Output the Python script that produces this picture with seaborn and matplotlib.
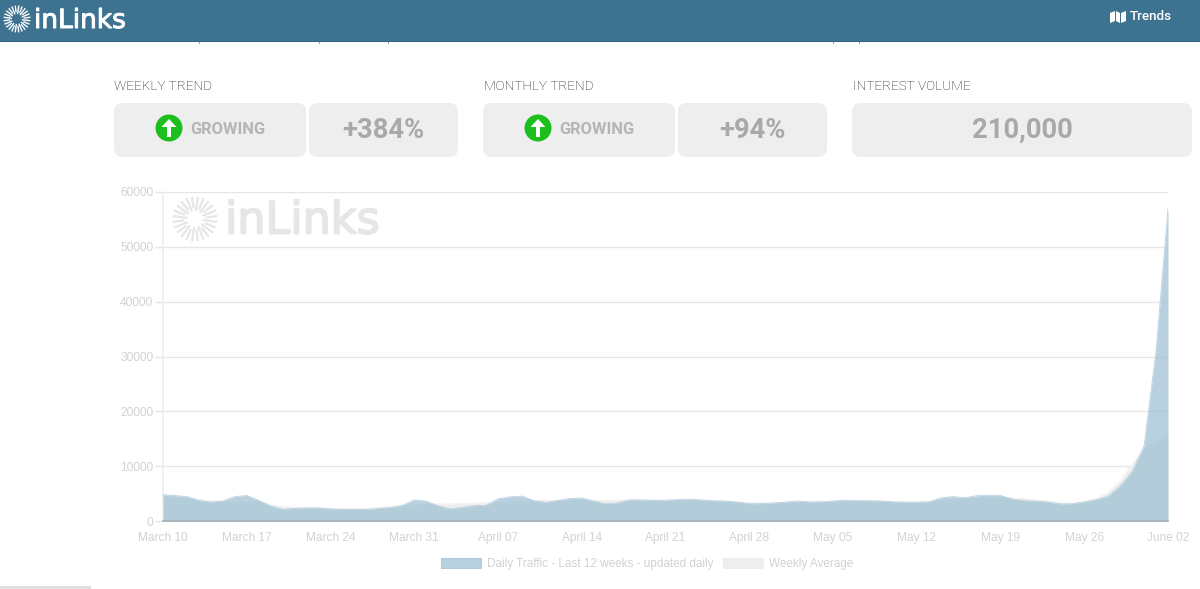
import numpy as np
import pandas as pd
import seaborn as sns
import matplotlib.pyplot as plt
import matplotlib.patheffects as pe
from matplotlib.patches import FancyBboxPatch, Rectangle, Circle, Polygon, Patch

# values, one per day from March 10 to June 02
daily_traffic = [
    4800, 4650, 4450, 3750, 3450, 3650, 4450, 4650, 3750, 2700, 2150, 2300,
    2400, 2400, 2200, 2100, 2100, 2100, 2300, 2450, 2850, 3850, 3600, 2800,
    2200, 2500, 2800, 2850, 4050, 4400, 4550, 3700, 3400, 3750, 4100, 4200,
    3600, 3150, 3300, 3850, 3850, 3800, 3800, 3900, 4000, 3850, 3700, 3650,
    3450, 3150, 3150, 3300, 3450, 3650, 3500, 3500, 3650, 3800, 3700, 3700,
    3650, 3500, 3450, 3450, 3500, 4200, 4450, 4250, 4600, 4700, 4650, 4000,
    3700, 3600, 3450, 3100, 3150, 3500, 3900, 4500, 6400, 9000, 13700, 31000,
    57000,
]
weekly_average = [
    4300, 4200, 4100, 3900, 3700, 3600, 3500, 3400, 3600, 3000, 2600, 2500,
    2400, 2300, 2300, 2300, 2300, 2300, 2400, 2600, 2800, 2900, 3000, 3100,
    3100, 3200, 3250, 3300, 3350, 3400, 3500, 3750, 3750, 3750, 3800, 3800,
    3800, 3800, 3800, 3800, 3750, 3700, 3700, 3700, 3700, 3650, 3600, 3550,
    3500, 3350, 3300, 3300, 3350, 3400, 3400, 3450, 3500, 3500, 3550, 3550,
    3550, 3450, 3400, 3400, 3450, 3600, 3800, 4000, 4200, 4300, 4300, 4200,
    4050, 3800, 3600, 3300, 3200, 3500, 4050, 5200, 7300, 10300, 13000, 14600,
    16000,
]
tick_labels = ["March 10", "March 17", "March 24", "March 31", "April 07", "April 14",
               "April 21", "April 28", "May 05", "May 12", "May 19", "May 26", "June 02"]
y_ticks = [0, 10000, 20000, 30000, 40000, 50000, 60000]

dates = pd.date_range("2019-03-10", periods=len(daily_traffic), freq="D")
df = pd.DataFrame({"date": dates, "daily": daily_traffic, "weekly": weekly_average})

sns.set_theme(style="white")
plt.rcParams["font.family"] = ["Liberation Sans", "DejaVu Sans"]

HEADER = "#3D7391"
CARD = "#EEEEEE"
LIGHT = "#D2D2D2"
BLUE = "#9FC0D4"

fig = plt.figure(figsize=(12, 5.89), dpi=100, facecolor="white")

# page furniture, in pixel coordinates
bg = fig.add_axes([0, 0, 1, 1], zorder=0)
bg.set_xlim(0, 1200)
bg.set_ylim(589, 0)
bg.axis("off")


def sunburst(cx, cy, r_in, r_out, color, lw):
    for k in range(24):
        a = 2 * np.pi * k / 24 + 0.13
        r0 = r_in if k % 2 == 0 else r_in * 1.35
        bg.plot([cx + r0 * np.cos(a), cx + r_out * np.cos(a)],
                [cy + r0 * np.sin(a), cy + r_out * np.sin(a)],
                color=color, lw=lw, solid_capstyle="butt")


def growing(cx):
    bg.add_patch(Circle((cx, 128), 13.5, fc="#1DBF1D", ec="none"))
    bg.add_patch(Polygon([(cx, 119), (cx + 7.5, 127), (cx + 2, 127), (cx + 2, 137),
                          (cx - 2, 137), (cx - 2, 127), (cx - 7.5, 127)], fc="white", ec="none"))
    bg.text(cx + 21, 130, "GROWING", family="Roboto", weight="bold", fontsize=11.9,
            color="#B5B5B5", va="center", ha="left")


bg.add_patch(Rectangle((0, 0), 1200, 41, fc=HEADER, ec="none"))
bg.add_patch(Rectangle((0, 40.5), 1200, 1, fc="#2F6583", ec="none"))
sunburst(17, 19, 5, 13.5, "white", 1.0)
bg.text(34, 21, "inLinks", family="DejaVu Sans", fontsize=19, color="white", va="center", ha="left",
        path_effects=[pe.withStroke(linewidth=0.7, foreground="white")])
bg.text(1130, 17, "Trends", family="Roboto", weight="medium", fontsize=9.7, color="white",
        va="center", ha="left")
bg.add_patch(Polygon([(1110, 13), (1115, 11), (1115, 21), (1110, 23)], fc="white", ec="none"))
bg.add_patch(Polygon([(1116, 11), (1120, 13), (1120, 23), (1116, 21)], fc="white", ec="none"))
bg.add_patch(Polygon([(1121, 13), (1126, 11), (1126, 21), (1121, 23)], fc="white", ec="none"))

# descenders of the text line cut off under the header
for x in [199, 319, 388, 833, 859]:
    bg.plot([x, x], [41.5, 43], color="#999999", lw=0.8)

for x, label in [(114, "WEEKLY TREND"), (484, "MONTHLY TREND"), (853, "INTEREST VOLUME")]:
    bg.text(x, 86, label, family="Roboto", weight="light", fontsize=9.7, color="#111111",
            va="center", ha="left")

for x0, x1 in [(114, 306), (309, 458), (483, 675), (678, 827), (852, 1192)]:
    bg.add_patch(FancyBboxPatch((x0 + 9, 112), x1 - x0 - 18, 36, boxstyle="round,pad=9",
                                fc=CARD, ec="none"))

growing(169)
growing(538)
for x, value in [(383, "+384%"), (752, "+94%"), (1022, "210,000")]:
    bg.text(x, 130, value, family="Roboto", weight="bold", fontsize=19.7, color="#A9A9A9",
            va="center", ha="center")

# watermark behind the chart
sunburst(195, 219, 8, 22.5, "#E6E6E6", 1.6)
bg.text(225, 221, "inLinks", family="DejaVu Sans", fontsize=32, color="#E6E6E6", va="center", ha="left",
        path_effects=[pe.withStroke(linewidth=1.3, foreground="#E6E6E6")])

bg.add_patch(Rectangle((0, 586), 91, 3, fc="#E0E0E0", ec="none"))

# the chart itself
ax = fig.add_axes([163 / 1200, 1 - 521 / 589, 1005 / 1200, 329 / 589], zorder=1)
ax.patch.set_visible(False)

ax.fill_between(df["date"], df["weekly"], color="#EEEEEE", lw=0, zorder=2)
ax.fill_between(df["date"], df["daily"], color=BLUE, alpha=0.74, lw=0, zorder=3)
sns.lineplot(data=df, x="date", y="weekly", ax=ax, color="#EEEEEE", lw=0.6, zorder=2)
sns.lineplot(data=df, x="date", y="daily", ax=ax, color="#B8D1DF", lw=0.6, zorder=3)

ax.set_xlim(df["date"].iloc[0], df["date"].iloc[-1])
ax.set_ylim(0, 60000)
ax.set_xlabel("")
ax.set_ylabel("")
ax.set_xticks(df["date"].iloc[::7])
ax.set_xticklabels(tick_labels)
ax.set_yticks(y_ticks)
ax.set_yticklabels([str(v) for v in y_ticks])
ax.tick_params(axis="y", left=True, length=6, width=1, color="#E6E6E6", labelcolor=LIGHT,
               labelsize=8.6, pad=1)
ax.tick_params(axis="x", bottom=False, labelcolor=LIGHT, labelsize=8.6, pad=2)
ax.grid(axis="y", color="#E6E6E6", lw=1, zorder=1)
ax.set_axisbelow(True)
for side in ["top", "right"]:
    ax.spines[side].set_visible(False)
ax.spines["left"].set_color("#EEEEEE")
ax.spines["bottom"].set_color("#A8B0B4")
ax.spines["bottom"].set_zorder(5)

handles = [Patch(fc="#B8D1DF", ec="#B0CCDC", lw=0.8, label="Daily Traffic - Last 12 weeks - updated daily"),
           Patch(fc="#EEEEEE", ec="#EEEEEE", lw=0.8, label="Weekly Average")]
fig.legend(handles=handles, loc="center", bbox_to_anchor=(647 / 1200, 1 - 564 / 589), ncol=2, frameon=False,
           fontsize=8.5, labelcolor=LIGHT, handlelength=3.39, handleheight=1.0,
           handletextpad=0.5, columnspacing=0.85, borderpad=0)

fig.savefig("out.png", dpi=100)
